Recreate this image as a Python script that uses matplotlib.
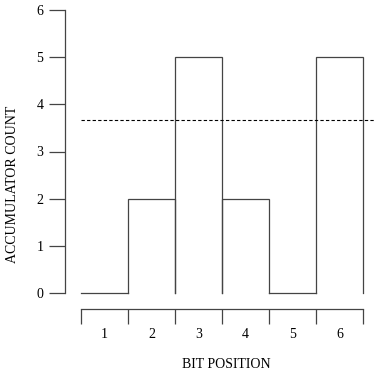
import matplotlib
matplotlib.use("Agg")
import matplotlib.pyplot as plt
from matplotlib.ticker import FixedLocator, NullFormatter

# data
positions = [1, 2, 3, 4, 5, 6]
counts = [0, 2, 5, 2, 0, 5]
threshold = 3.667
tick_labels = ["1", "2", "3", "4", "5", "6"]

plt.rcParams["font.family"] = ["Liberation Serif", "DejaVu Serif"]
plt.rcParams["font.size"] = 10

W, H = 375, 376
fig = plt.figure(figsize=(W / 100, H / 100), dpi=100)
# axes box: x 0.5..6.5 -> px 81..363, y 0..6 -> px 293..10
ax = fig.add_axes([81 / W, (H - 293) / H, (363 - 81) / W, (293 - 10) / H])

line_col = "#444444"
for p, c in zip(positions, counts):
    # open bar: left side, top, right side (no base line)
    ax.plot([p - 0.5, p - 0.5, p + 0.5, p + 0.5], [0, c, c, 0],
            color=line_col, lw=0.9, solid_joinstyle="miter", clip_on=False)

ax.plot([0.5, 7.2], [threshold, threshold], color="black", lw=0.8,
        linestyle=(0, (3, 2)), clip_on=False)

ax.set_xlim(0.5, 6.5)
ax.set_ylim(0, 6)

for s in ["top", "right"]:
    ax.spines[s].set_visible(False)
ax.spines["left"].set_position(("outward", 11.5))
ax.spines["bottom"].set_position(("outward", 11.5))
ax.spines["left"].set_bounds(0, 6)
ax.spines["bottom"].set_bounds(0.5, 6.5)
for s in ["left", "bottom"]:
    ax.spines[s].set_color(line_col)
    ax.spines[s].set_linewidth(0.9)

ax.set_yticks(range(0, 7))
ax.tick_params(axis="y", direction="out", length=11.5, width=0.9,
               color=line_col, pad=4)

# major ticks at bar edges (no labels), labels at bar centres
ax.xaxis.set_major_locator(FixedLocator([p - 0.5 for p in positions] + [positions[-1] + 0.5]))
ax.xaxis.set_major_formatter(NullFormatter())
ax.set_xticks(positions, minor=True)
ax.set_xticklabels(tick_labels, minor=True)
ax.tick_params(axis="x", which="major", direction="out", length=10.8,
               width=0.9, color=line_col)
ax.tick_params(axis="x", which="minor", length=0, pad=14)

fig.text(226 / W, 1 - 365 / H, "BIT POSITION", ha="center", va="center")
fig.text(13 / W, 1 - 184 / H, "ACCUMULATOR COUNT", ha="center", va="center",
         rotation=90)

fig.savefig("out.png", dpi=100)
